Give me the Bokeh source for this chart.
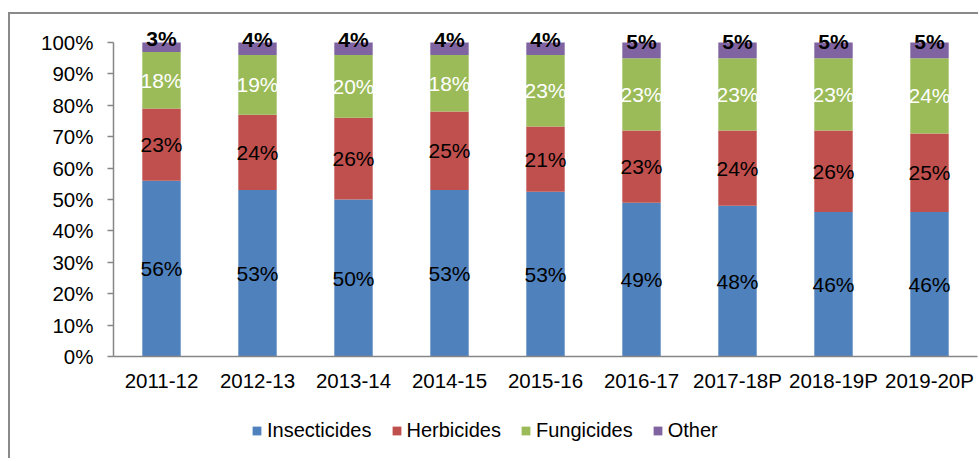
from bokeh.plotting import figure
from bokeh.layouts import column
from bokeh.models import (ColumnDataSource, FixedTicker, NumeralTickFormatter, Legend,
                          LegendItem, Range1d, FactorRange)
from bokeh.core.properties import value
from bokeh.embed import file_html
from bokeh.resources import INLINE

years = ["2011-12", "2012-13", "2013-14", "2014-15", "2015-16", "2016-17",
         "2017-18P", "2018-19P", "2019-20P"]
insecticides = [56, 53, 50, 53, 53, 49, 48, 46, 46]
herbicides = [23, 24, 26, 25, 21, 23, 24, 26, 25]
fungicides = [18, 19, 20, 18, 23, 23, 23, 23, 24]
other = [3, 4, 4, 4, 4, 5, 5, 5, 5]
series_names = ["Insecticides", "Herbicides", "Fungicides", "Other"]
series_values = [insecticides, herbicides, fungicides, other]
colors = ["#4F81BD", "#C0504D", "#9BBB59", "#8064A2"]
label_colors = ["#000000", "#000000", "#FFFFFF", "#000000"]
label_styles = ["normal", "normal", "normal", "bold"]
y_ticks = [0, 0.1, 0.2, 0.3, 0.4, 0.5, 0.6, 0.7, 0.8, 0.9, 1.0]

FONT = "Liberation Sans"

# 100% stacked: normalise each year by its total
totals = [sum(v[i] for v in series_values) for i in range(len(years))]
data = {"years": years}
for name, vals in zip(series_names, series_values):
    data[name] = [v / t for v, t in zip(vals, totals)]
source = ColumnDataSource(data)

# frame: 100% sits 20px below the frame top, 314px from 0% to 100%
HEAD = 20 / 314
p = figure(x_range=FactorRange(*years, range_padding=0), y_range=Range1d(0, 1 + HEAD),
           width=968, height=386, output_backend="svg", toolbar_location=None,
           min_border_left=103, min_border_top=8, min_border_right=1,
           min_border_bottom=44)

renderers = p.vbar_stack(series_names, x="years", width=0.4, color=colors,
                         line_color=None, source=source)

# data labels
bottoms = [0.0] * len(years)
for k, name in enumerate(series_names):
    vals = data[name]
    centers = [b + v / 2 for b, v in zip(bottoms, vals)]
    texts = [f"{raw}%" for raw in series_values[k]]
    lsrc = ColumnDataSource(dict(x=years, y=centers, t=texts))
    p.text(x="x", y="y", text="t", source=lsrc, text_align="center",
           text_baseline="middle", text_font=value(FONT), text_font_size="21px",
           text_color=label_colors[k], text_font_style=label_styles[k],
           y_offset=(-9 if name == "Other" else 0))
    bottoms = [b + v for b, v in zip(bottoms, vals)]

# axes
p.xgrid.grid_line_color = None
p.ygrid.grid_line_color = None
p.outline_line_color = None

p.yaxis.ticker = FixedTicker(ticks=y_ticks)
p.yaxis.bounds = (0, 1)
p.yaxis.formatter = NumeralTickFormatter(format="0%")
p.yaxis.minor_tick_line_color = None
p.yaxis.major_tick_out = 6
p.yaxis.major_tick_in = 0
p.yaxis.major_label_standoff = 14
p.yaxis.axis_line_color = "#868686"
p.yaxis.major_tick_line_color = "#868686"

p.xaxis.major_tick_line_color = None
p.xaxis.major_tick_out = 0
p.xaxis.major_tick_in = 0
p.xaxis.axis_line_color = "#868686"
p.xaxis.major_label_standoff = 12

for ax in (p.xaxis, p.yaxis):
    ax.major_label_text_font = FONT
    ax.major_label_text_font_size = "20.5px"
    ax.major_label_text_color = "#000000"
    ax.axis_line_width = 1.5
    ax.major_tick_line_width = 1.5

# legend strip below the chart: same series, drawn outside its visible y window,
# only so that the legend has swatches to show
pl = figure(width=968, height=58, output_backend="svg", toolbar_location=None,
            x_range=p.x_range, y_range=Range1d(2, 3),
            x_axis_location=None, y_axis_location=None, min_border=0)
pl.grid.visible = False
pl.outline_line_color = None
legend_renderers = pl.vbar_stack(series_names, x="years", width=0.4, color=colors,
                                 line_color=None, source=source)
legend = Legend(items=[LegendItem(label=n, renderers=[r])
                       for n, r in zip(series_names, legend_renderers)],
                location=(138, 16), orientation="horizontal",
                label_text_font=FONT, label_text_font_size="20px",
                label_text_color="#000000",
                glyph_width=11, glyph_height=11, label_standoff=5, spacing=19,
                padding=0, margin=0, border_line_color=None,
                background_fill_alpha=0)
pl.add_layout(legend)

layout = column(p, pl, spacing=0,
                styles={"margin-left": "8px", "margin-top": "12px",
                        "border-style": "solid", "border-color": "#8a8a8a",
                        "border-width": "2px 0px 0px 2px"})

open("out.html", "w").write(file_html(layout, INLINE))
